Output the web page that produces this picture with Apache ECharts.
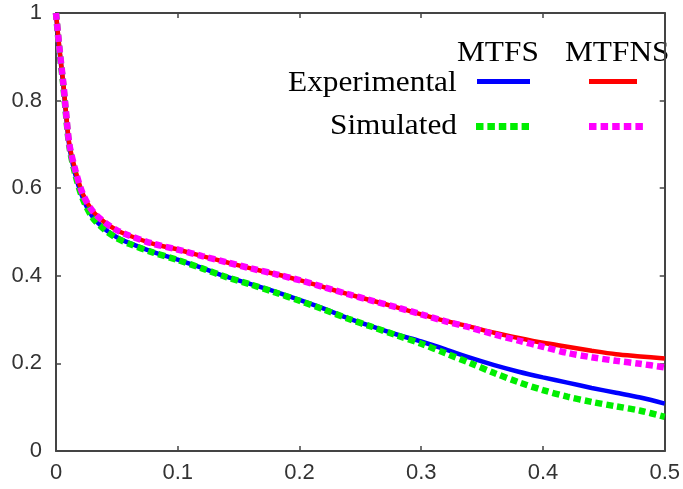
<!DOCTYPE html>
<html>
<head>
<meta charset="utf-8">
<script src="https://cdn.jsdelivr.net/npm/echarts@6/dist/echarts.min.js"></script>
<style>html,body{margin:0;padding:0;background:#fff;}#c{width:683px;height:489px;}</style>
</head>
<body>
<div id="c"></div>
<script>
var xValues = [0, 0.003, 0.006, 0.008, 0.011, 0.016, 0.022, 0.03, 0.04, 0.05, 0.06, 0.08, 0.1, 0.12, 0.14, 0.16, 0.18, 0.2, 0.22, 0.24, 0.26, 0.28, 0.3, 0.32, 0.34, 0.36, 0.38, 0.4, 0.42, 0.44, 0.46, 0.48, 0.5];
var mtfsExperimental = [1.0, 0.91, 0.835, 0.775, 0.695, 0.63, 0.578, 0.535, 0.507, 0.488, 0.475, 0.454, 0.437, 0.418, 0.398, 0.381, 0.364, 0.345, 0.325, 0.303, 0.284, 0.266, 0.250, 0.232, 0.213, 0.196, 0.181, 0.168, 0.156, 0.144, 0.133, 0.122, 0.108];
var mtfsSimulated = [1.0, 0.91, 0.835, 0.775, 0.695, 0.63, 0.576, 0.533, 0.505, 0.486, 0.473, 0.453, 0.436, 0.417, 0.397, 0.380, 0.362, 0.343, 0.323, 0.302, 0.283, 0.264, 0.245, 0.223, 0.201, 0.178, 0.157, 0.139, 0.124, 0.112, 0.102, 0.092, 0.078];
var mtfnsExperimental = [1.0, 0.915, 0.84, 0.78, 0.70, 0.64, 0.587, 0.548, 0.522, 0.504, 0.492, 0.473, 0.460, 0.445, 0.431, 0.417, 0.404, 0.390, 0.374, 0.358, 0.343, 0.328, 0.312, 0.297, 0.284, 0.270, 0.258, 0.247, 0.238, 0.229, 0.221, 0.216, 0.211];
var mtfnsSimulated = [1.0, 0.915, 0.84, 0.78, 0.70, 0.64, 0.587, 0.548, 0.522, 0.504, 0.492, 0.473, 0.460, 0.445, 0.431, 0.417, 0.404, 0.390, 0.374, 0.358, 0.343, 0.328, 0.312, 0.296, 0.282, 0.266, 0.252, 0.238, 0.224, 0.214, 0.206, 0.199, 0.191];
var xTicks = [0, 0.1, 0.2, 0.3, 0.4, 0.5];
var yTicks = [0, 0.2, 0.4, 0.6, 0.8, 1];
var legendColumns = ['MTFS', 'MTFNS'];
var legendRows = ['Experimental', 'Simulated'];

function pairs(ys) { return xValues.map(function (x, i) { return [x, ys[i]]; }); }

var axisColor = '#444';
var labelStyle = { color: '#333', fontFamily: 'Liberation Sans, Arial, sans-serif', fontSize: 22 };
var serifFont = '29px "Liberation Serif", "Times New Roman", serif';

function frameAxis(pos, isX, showLabels) {
  return {
    type: 'value', position: pos,
    min: isX ? xTicks[0] : yTicks[0],
    max: isX ? xTicks[xTicks.length - 1] : yTicks[yTicks.length - 1],
    interval: isX ? xTicks[1] - xTicks[0] : yTicks[1] - yTicks[0],
    axisLine: { show: true, onZero: false, lineStyle: { color: axisColor, width: 2 } },
    axisTick: { show: true, inside: true, length: 5, lineStyle: { color: axisColor, width: 1.5 } },
    axisLabel: showLabels ? Object.assign({ margin: isX ? 11 : 14 }, labelStyle) : { show: false },
    splitLine: { show: false }
  };
}

function legendText(txt, x, top) {
  return { type: 'text', x: x, y: top, scaleX: 1.08,
    style: { x: 0, y: 0, text: txt, font: serifFont, fill: '#000', verticalAlign: 'top', align: 'left' } };
}

var chart = echarts.init(document.getElementById('c'), null, { renderer: 'canvas' });
chart.setOption({
  animation: false,
  backgroundColor: '#fff',
  grid: { left: 56, right: 15, top: 13, bottom: 38, containLabel: false },
  xAxis: [frameAxis('bottom', true, true), frameAxis('top', true, false)],
  yAxis: [frameAxis('left', false, true), frameAxis('right', false, false)],
  series: [
    { name: 'MTFS Experimental', type: 'line', data: pairs(mtfsExperimental), showSymbol: false, smooth: 0.3,
      lineStyle: { color: '#0000ff', width: 4.5 }, z: 2 },
    { name: 'MTFNS Experimental', type: 'line', data: pairs(mtfnsExperimental), showSymbol: false, smooth: 0.3,
      lineStyle: { color: '#ff0000', width: 4.5 }, z: 2 },
    { name: 'MTFS Simulated', type: 'line', data: pairs(mtfsSimulated), showSymbol: false, smooth: 0.3,
      lineStyle: { color: '#00ee00', width: 6.5, type: [7, 4], cap: 'butt' }, z: 3 },
    { name: 'MTFNS Simulated', type: 'line', data: pairs(mtfnsSimulated), showSymbol: false, smooth: 0.3,
      lineStyle: { color: '#ff00ff', width: 6.5, type: [7, 4], cap: 'butt' }, z: 3 }
  ],
  graphic: [
    legendText(legendColumns[0], 457, 39),
    legendText(legendColumns[1], 565, 39),
    legendText(legendRows[0], 288, 69),
    legendText(legendRows[1], 330, 112),
    { type: 'line', shape: { x1: 477, y1: 81.5, x2: 530, y2: 81.5 }, style: { stroke: '#0000ff', lineWidth: 5 } },
    { type: 'line', shape: { x1: 589, y1: 81.5, x2: 637, y2: 81.5 }, style: { stroke: '#ff0000', lineWidth: 5 } },
    { type: 'line', shape: { x1: 476, y1: 126.5, x2: 529, y2: 126.5 }, style: { stroke: '#00ee00', lineWidth: 7, lineDash: [7.5, 3.9] } },
    { type: 'line', shape: { x1: 589, y1: 126.5, x2: 643, y2: 126.5 }, style: { stroke: '#ff00ff', lineWidth: 7, lineDash: [7.5, 4.1] } }
  ]
});
</script>
</body>
</html>
